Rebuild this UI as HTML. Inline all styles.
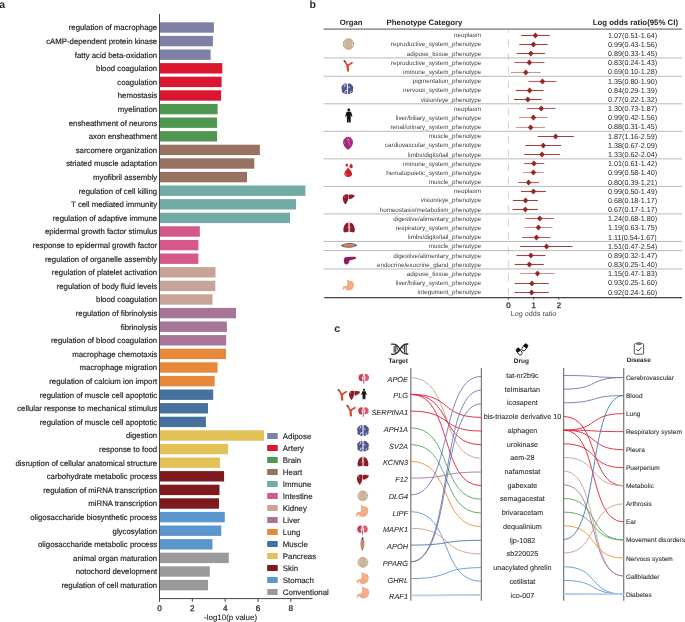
<!DOCTYPE html>
<html><head><meta charset="utf-8"><style>
html,body{margin:0;padding:0;background:#fff;}
svg{display:block;font-family:"Liberation Sans", sans-serif;will-change:transform;text-rendering:geometricPrecision;}
</style></head><body>
<svg width="685" height="622" viewBox="0 0 685 622">
<rect width="685" height="622" fill="#fff"/>
<text x="-0.80" y="8.00" font-size="10.5" text-anchor="start" font-weight="bold" fill="#231f20">a</text>
<text x="309.60" y="7.90" font-size="10.5" text-anchor="start" font-weight="bold" fill="#231f20">b</text>
<text x="334.20" y="331.80" font-size="10.5" text-anchor="start" font-weight="bold" fill="#231f20">c</text>
<g>
<rect x="160.00" y="22.30" width="53.90" height="10.4" fill="#7e80a8"/>
<text x="157.20" y="30.30" font-size="7.8" text-anchor="end" fill="#231f20" stroke="#231f20" stroke-width="0.18">regulation of macrophage</text>
<rect x="160.00" y="35.90" width="52.90" height="10.4" fill="#7e80a8"/>
<text x="157.20" y="43.90" font-size="7.8" text-anchor="end" fill="#231f20" stroke="#231f20" stroke-width="0.18">cAMP-dependent protein kinase</text>
<rect x="160.00" y="49.50" width="50.60" height="10.4" fill="#7e80a8"/>
<text x="157.20" y="57.50" font-size="7.8" text-anchor="end" fill="#231f20" stroke="#231f20" stroke-width="0.18">fatty acid beta-oxidation</text>
<rect x="160.00" y="63.10" width="62.30" height="10.4" fill="#dc1530"/>
<text x="157.20" y="71.10" font-size="7.8" text-anchor="end" fill="#231f20" stroke="#231f20" stroke-width="0.18">blood coagulation</text>
<rect x="160.00" y="76.70" width="61.60" height="10.4" fill="#dc1530"/>
<text x="157.20" y="84.70" font-size="7.8" text-anchor="end" fill="#231f20" stroke="#231f20" stroke-width="0.18">coagulation</text>
<rect x="160.00" y="90.30" width="61.10" height="10.4" fill="#dc1530"/>
<text x="157.20" y="98.30" font-size="7.8" text-anchor="end" fill="#231f20" stroke="#231f20" stroke-width="0.18">hemostasis</text>
<rect x="160.00" y="103.90" width="57.60" height="10.4" fill="#4f9650"/>
<text x="157.20" y="111.90" font-size="7.8" text-anchor="end" fill="#231f20" stroke="#231f20" stroke-width="0.18">myelination</text>
<rect x="160.00" y="117.50" width="57.10" height="10.4" fill="#4f9650"/>
<text x="157.20" y="125.50" font-size="7.8" text-anchor="end" fill="#231f20" stroke="#231f20" stroke-width="0.18">ensheathment of neurons</text>
<rect x="160.00" y="131.10" width="57.10" height="10.4" fill="#4f9650"/>
<text x="157.20" y="139.10" font-size="7.8" text-anchor="end" fill="#231f20" stroke="#231f20" stroke-width="0.18">axon ensheathment</text>
<rect x="160.00" y="144.70" width="99.90" height="10.4" fill="#977260"/>
<text x="157.20" y="152.70" font-size="7.8" text-anchor="end" fill="#231f20" stroke="#231f20" stroke-width="0.18">sarcomere organization</text>
<rect x="160.00" y="158.30" width="94.30" height="10.4" fill="#977260"/>
<text x="157.20" y="166.30" font-size="7.8" text-anchor="end" fill="#231f20" stroke="#231f20" stroke-width="0.18">striated muscle adaptation</text>
<rect x="160.00" y="171.90" width="87.00" height="10.4" fill="#977260"/>
<text x="157.20" y="179.90" font-size="7.8" text-anchor="end" fill="#231f20" stroke="#231f20" stroke-width="0.18">myofibril assembly</text>
<rect x="160.00" y="185.50" width="145.40" height="10.4" fill="#72aba6"/>
<text x="157.20" y="193.50" font-size="7.8" text-anchor="end" fill="#231f20" stroke="#231f20" stroke-width="0.18">regulation of cell killing</text>
<rect x="160.00" y="199.10" width="136.10" height="10.4" fill="#72aba6"/>
<text x="157.20" y="207.10" font-size="7.8" text-anchor="end" fill="#231f20" stroke="#231f20" stroke-width="0.18">T cell mediated immunity</text>
<rect x="160.00" y="212.70" width="130.00" height="10.4" fill="#72aba6"/>
<text x="157.20" y="220.70" font-size="7.8" text-anchor="end" fill="#231f20" stroke="#231f20" stroke-width="0.18">regulation of adaptive immune</text>
<rect x="160.00" y="226.30" width="39.85" height="10.4" fill="#d4588a"/>
<text x="157.20" y="234.30" font-size="7.8" text-anchor="end" fill="#231f20" stroke="#231f20" stroke-width="0.18">epidermal growth factor stimulus</text>
<rect x="160.00" y="239.90" width="38.40" height="10.4" fill="#d4588a"/>
<text x="157.20" y="247.90" font-size="7.8" text-anchor="end" fill="#231f20" stroke="#231f20" stroke-width="0.18">response to epidermal growth factor</text>
<rect x="160.00" y="253.50" width="38.40" height="10.4" fill="#d4588a"/>
<text x="157.20" y="261.50" font-size="7.8" text-anchor="end" fill="#231f20" stroke="#231f20" stroke-width="0.18">regulation of organelle assembly</text>
<rect x="160.00" y="267.10" width="55.50" height="10.4" fill="#c8a397"/>
<text x="157.20" y="275.10" font-size="7.8" text-anchor="end" fill="#231f20" stroke="#231f20" stroke-width="0.18">regulation of platelet activation</text>
<rect x="160.00" y="280.70" width="55.30" height="10.4" fill="#c8a397"/>
<text x="157.20" y="288.70" font-size="7.8" text-anchor="end" fill="#231f20" stroke="#231f20" stroke-width="0.18">regulation of body fluid levels</text>
<rect x="160.00" y="294.30" width="52.50" height="10.4" fill="#c8a397"/>
<text x="157.20" y="302.30" font-size="7.8" text-anchor="end" fill="#231f20" stroke="#231f20" stroke-width="0.18">blood coagulation</text>
<rect x="160.00" y="307.90" width="76.00" height="10.4" fill="#a77598"/>
<text x="157.20" y="315.90" font-size="7.8" text-anchor="end" fill="#231f20" stroke="#231f20" stroke-width="0.18">regulation of fibrinolysis</text>
<rect x="160.00" y="321.50" width="66.90" height="10.4" fill="#a77598"/>
<text x="157.20" y="329.50" font-size="7.8" text-anchor="end" fill="#231f20" stroke="#231f20" stroke-width="0.18">fibrinolysis</text>
<rect x="160.00" y="335.10" width="66.20" height="10.4" fill="#a77598"/>
<text x="157.20" y="343.10" font-size="7.8" text-anchor="end" fill="#231f20" stroke="#231f20" stroke-width="0.18">regulation of blood coagulation</text>
<rect x="160.00" y="348.70" width="66.00" height="10.4" fill="#e7893a"/>
<text x="157.20" y="356.70" font-size="7.8" text-anchor="end" fill="#231f20" stroke="#231f20" stroke-width="0.18">macrophage chemotaxis</text>
<rect x="160.00" y="362.30" width="57.60" height="10.4" fill="#e7893a"/>
<text x="157.20" y="370.30" font-size="7.8" text-anchor="end" fill="#231f20" stroke="#231f20" stroke-width="0.18">macrophage migration</text>
<rect x="160.00" y="375.90" width="54.60" height="10.4" fill="#e7893a"/>
<text x="157.20" y="383.90" font-size="7.8" text-anchor="end" fill="#231f20" stroke="#231f20" stroke-width="0.18">regulation of calcium ion import</text>
<rect x="160.00" y="389.50" width="53.20" height="10.4" fill="#46719d"/>
<text x="157.20" y="397.50" font-size="7.8" text-anchor="end" fill="#231f20" stroke="#231f20" stroke-width="0.18">regulation of muscle cell apoptotic</text>
<rect x="160.00" y="403.10" width="48.00" height="10.4" fill="#46719d"/>
<text x="157.20" y="411.10" font-size="7.8" text-anchor="end" fill="#231f20" stroke="#231f20" stroke-width="0.18">cellular response to mechanical stimulus</text>
<rect x="160.00" y="416.70" width="45.90" height="10.4" fill="#46719d"/>
<text x="157.20" y="424.70" font-size="7.8" text-anchor="end" fill="#231f20" stroke="#231f20" stroke-width="0.18">regulation of muscle cell apoptotic</text>
<rect x="160.00" y="430.30" width="104.00" height="10.4" fill="#e2c257"/>
<text x="157.20" y="438.30" font-size="7.8" text-anchor="end" fill="#231f20" stroke="#231f20" stroke-width="0.18">digestion</text>
<rect x="160.00" y="443.90" width="68.10" height="10.4" fill="#e2c257"/>
<text x="157.20" y="451.90" font-size="7.8" text-anchor="end" fill="#231f20" stroke="#231f20" stroke-width="0.18">response to food</text>
<rect x="160.00" y="457.50" width="59.90" height="10.4" fill="#e2c257"/>
<text x="157.20" y="465.50" font-size="7.8" text-anchor="end" fill="#231f20" stroke="#231f20" stroke-width="0.18">disruption of cellular anatomical structure</text>
<rect x="160.00" y="471.10" width="64.10" height="10.4" fill="#7e1a1e"/>
<text x="157.20" y="479.10" font-size="7.8" text-anchor="end" fill="#231f20" stroke="#231f20" stroke-width="0.18">carbohydrate metabolic process</text>
<rect x="160.00" y="484.70" width="59.50" height="10.4" fill="#7e1a1e"/>
<text x="157.20" y="492.70" font-size="7.8" text-anchor="end" fill="#231f20" stroke="#231f20" stroke-width="0.18">regulation of miRNA transcription</text>
<rect x="160.00" y="498.30" width="59.00" height="10.4" fill="#7e1a1e"/>
<text x="157.20" y="506.30" font-size="7.8" text-anchor="end" fill="#231f20" stroke="#231f20" stroke-width="0.18">miRNA transcription</text>
<rect x="160.00" y="511.90" width="64.80" height="10.4" fill="#5c96cf"/>
<text x="157.20" y="519.90" font-size="7.8" text-anchor="end" fill="#231f20" stroke="#231f20" stroke-width="0.18">oligosaccharide biosynthetic process</text>
<rect x="160.00" y="525.50" width="61.30" height="10.4" fill="#5c96cf"/>
<text x="157.20" y="533.50" font-size="7.8" text-anchor="end" fill="#231f20" stroke="#231f20" stroke-width="0.18">glycosylation</text>
<rect x="160.00" y="539.10" width="52.50" height="10.4" fill="#5c96cf"/>
<text x="157.20" y="547.10" font-size="7.8" text-anchor="end" fill="#231f20" stroke="#231f20" stroke-width="0.18">oligosaccharide metabolic process</text>
<rect x="160.00" y="552.70" width="68.80" height="10.4" fill="#9a9a9a"/>
<text x="157.20" y="560.70" font-size="7.8" text-anchor="end" fill="#231f20" stroke="#231f20" stroke-width="0.18">animal organ maturation</text>
<rect x="160.00" y="566.30" width="49.80" height="10.4" fill="#9a9a9a"/>
<text x="157.20" y="574.30" font-size="7.8" text-anchor="end" fill="#231f20" stroke="#231f20" stroke-width="0.18">notochord development</text>
<rect x="160.00" y="579.90" width="48.00" height="10.4" fill="#9a9a9a"/>
<text x="157.20" y="587.90" font-size="7.8" text-anchor="end" fill="#231f20" stroke="#231f20" stroke-width="0.18">regulation of cell maturation</text>
</g>
<line x1="159.5" y1="14" x2="159.5" y2="599.1" stroke="#454545" stroke-width="1"/>
<line x1="159.0" y1="598.6" x2="312.5" y2="598.6" stroke="#454545" stroke-width="1"/>
<line x1="159.50" y1="598.6" x2="159.50" y2="601.8" stroke="#454545" stroke-width="1"/>
<text x="159.50" y="611.00" font-size="8.2" text-anchor="middle" fill="#231f20" stroke="#231f20" stroke-width="0.25">0</text>
<line x1="192.34" y1="598.6" x2="192.34" y2="601.8" stroke="#454545" stroke-width="1"/>
<text x="192.34" y="611.00" font-size="8.2" text-anchor="middle" fill="#231f20" stroke="#231f20" stroke-width="0.25">2</text>
<line x1="225.18" y1="598.6" x2="225.18" y2="601.8" stroke="#454545" stroke-width="1"/>
<text x="225.18" y="611.00" font-size="8.2" text-anchor="middle" fill="#231f20" stroke="#231f20" stroke-width="0.25">4</text>
<line x1="258.02" y1="598.6" x2="258.02" y2="601.8" stroke="#454545" stroke-width="1"/>
<text x="258.02" y="611.00" font-size="8.2" text-anchor="middle" fill="#231f20" stroke="#231f20" stroke-width="0.25">6</text>
<line x1="290.86" y1="598.6" x2="290.86" y2="601.8" stroke="#454545" stroke-width="1"/>
<text x="290.86" y="611.00" font-size="8.2" text-anchor="middle" fill="#231f20" stroke="#231f20" stroke-width="0.25">8</text>
<text x="230.60" y="619.60" font-size="7.95" text-anchor="middle" fill="#231f20" stroke="#231f20" stroke-width="0.12">-log10(p value)</text>
<rect x="267.2" y="433.00" width="10.5" height="6" fill="#7e80a8"/>
<text x="282.80" y="438.80" font-size="7.9" text-anchor="start" fill="#231f20" stroke="#231f20" stroke-width="0.15">Adipose</text>
<rect x="267.2" y="445.00" width="10.5" height="6" fill="#dc1530"/>
<text x="282.80" y="450.80" font-size="7.9" text-anchor="start" fill="#231f20" stroke="#231f20" stroke-width="0.15">Artery</text>
<rect x="267.2" y="457.00" width="10.5" height="6" fill="#4f9650"/>
<text x="282.80" y="462.80" font-size="7.9" text-anchor="start" fill="#231f20" stroke="#231f20" stroke-width="0.15">Brain</text>
<rect x="267.2" y="469.00" width="10.5" height="6" fill="#977260"/>
<text x="282.80" y="474.80" font-size="7.9" text-anchor="start" fill="#231f20" stroke="#231f20" stroke-width="0.15">Heart</text>
<rect x="267.2" y="481.00" width="10.5" height="6" fill="#72aba6"/>
<text x="282.80" y="486.80" font-size="7.9" text-anchor="start" fill="#231f20" stroke="#231f20" stroke-width="0.15">Immune</text>
<rect x="267.2" y="493.00" width="10.5" height="6" fill="#d4588a"/>
<text x="282.80" y="498.80" font-size="7.9" text-anchor="start" fill="#231f20" stroke="#231f20" stroke-width="0.15">Intestine</text>
<rect x="267.2" y="505.00" width="10.5" height="6" fill="#c8a397"/>
<text x="282.80" y="510.80" font-size="7.9" text-anchor="start" fill="#231f20" stroke="#231f20" stroke-width="0.15">Kidney</text>
<rect x="267.2" y="517.00" width="10.5" height="6" fill="#a77598"/>
<text x="282.80" y="522.80" font-size="7.9" text-anchor="start" fill="#231f20" stroke="#231f20" stroke-width="0.15">Liver</text>
<rect x="267.2" y="529.00" width="10.5" height="6" fill="#e7893a"/>
<text x="282.80" y="534.80" font-size="7.9" text-anchor="start" fill="#231f20" stroke="#231f20" stroke-width="0.15">Lung</text>
<rect x="267.2" y="541.00" width="10.5" height="6" fill="#46719d"/>
<text x="282.80" y="546.80" font-size="7.9" text-anchor="start" fill="#231f20" stroke="#231f20" stroke-width="0.15">Muscle</text>
<rect x="267.2" y="553.00" width="10.5" height="6" fill="#e2c257"/>
<text x="282.80" y="558.80" font-size="7.9" text-anchor="start" fill="#231f20" stroke="#231f20" stroke-width="0.15">Pancreas</text>
<rect x="267.2" y="565.00" width="10.5" height="6" fill="#7e1a1e"/>
<text x="282.80" y="570.80" font-size="7.9" text-anchor="start" fill="#231f20" stroke="#231f20" stroke-width="0.15">Skin</text>
<rect x="267.2" y="577.00" width="10.5" height="6" fill="#5c96cf"/>
<text x="282.80" y="582.80" font-size="7.9" text-anchor="start" fill="#231f20" stroke="#231f20" stroke-width="0.15">Stomach</text>
<rect x="267.2" y="589.00" width="10.5" height="6" fill="#9a9a9a"/>
<text x="282.80" y="594.80" font-size="7.9" text-anchor="start" fill="#231f20" stroke="#231f20" stroke-width="0.15">Conventional</text>
<text x="339.80" y="24.90" font-size="7.7" text-anchor="start" font-weight="bold" fill="#231f20">Organ</text>
<text x="386.60" y="24.90" font-size="7.8" text-anchor="start" font-weight="bold" fill="#231f20">Phenotype Category</text>
<text x="592.80" y="25.30" font-size="7.84" text-anchor="start" font-weight="bold" fill="#231f20">Log odds ratio(95% CI)</text>
<line x1="323.5" y1="29.1" x2="682" y2="29.1" stroke="#9c9c9c" stroke-width="1.6"/>
<line x1="508.4" y1="29.9" x2="508.4" y2="297" stroke="#d2d2d2" stroke-width="1" stroke-dasharray="7.5,6.3" stroke-dashoffset="4.4"/>
<text x="481.20" y="37.30" font-size="6.25" text-anchor="end" fill="#3c3c3c">neoplasm</text>
<line x1="521.28" y1="35.50" x2="549.81" y2="35.50" stroke="#a53f3f" stroke-width="1.1"/>
<path d="M532.62,35.50L535.42,32.40L538.22,35.50L535.42,38.60Z" fill="#962828"/>
<text x="608.00" y="37.70" font-size="7.2" text-anchor="start" fill="#2a2a2a">1.07(0.51-1.64)</text>
<text x="481.20" y="46.47" font-size="6.25" text-anchor="end" fill="#3c3c3c">reproductive_system_phenotype</text>
<line x1="519.26" y1="44.50" x2="547.79" y2="44.50" stroke="#a53f3f" stroke-width="1.1"/>
<path d="M530.60,44.50L533.40,41.40L536.20,44.50L533.40,47.60Z" fill="#962828"/>
<text x="608.00" y="46.87" font-size="7.2" text-anchor="start" fill="#2a2a2a">0.99(0.43-1.56)</text>
<text x="481.20" y="55.65" font-size="6.25" text-anchor="end" fill="#3c3c3c">adipose_tissue_phenotype</text>
<line x1="516.73" y1="53.50" x2="545.01" y2="53.50" stroke="#a53f3f" stroke-width="1.1"/>
<path d="M528.07,53.50L530.87,50.40L533.67,53.50L530.87,56.60Z" fill="#962828"/>
<text x="608.00" y="56.05" font-size="7.2" text-anchor="start" fill="#2a2a2a">0.89(0.33-1.45)</text>
<line x1="323.5" y1="57.94" x2="682" y2="57.94" stroke="#b6b6b6" stroke-width="0.95"/>
<text x="481.20" y="64.83" font-size="6.25" text-anchor="end" fill="#3c3c3c">reproductive_system_phenotype</text>
<line x1="514.46" y1="62.50" x2="544.51" y2="62.50" stroke="#b65e5e" stroke-width="1.1"/>
<path d="M526.56,62.50L529.36,59.40L532.16,62.50L529.36,65.60Z" fill="#962828"/>
<text x="608.00" y="65.23" font-size="7.2" text-anchor="start" fill="#2a2a2a">0.83(0.24-1.43)</text>
<text x="481.20" y="74.00" font-size="6.25" text-anchor="end" fill="#3c3c3c">immune_system_phenotype</text>
<line x1="510.92" y1="72.50" x2="540.72" y2="72.50" stroke="#d09292" stroke-width="1.1"/>
<path d="M523.02,72.50L525.82,69.40L528.62,72.50L525.82,75.60Z" fill="#962828"/>
<text x="608.00" y="74.40" font-size="7.2" text-anchor="start" fill="#2a2a2a">0.69(0.10-1.28)</text>
<line x1="323.5" y1="76.29" x2="682" y2="76.29" stroke="#b6b6b6" stroke-width="0.95"/>
<text x="481.20" y="83.17" font-size="6.25" text-anchor="end" fill="#3c3c3c">pigmentation_phenotype</text>
<line x1="528.60" y1="81.50" x2="556.38" y2="81.50" stroke="#b65e5e" stroke-width="1.1"/>
<path d="M539.69,81.50L542.49,78.40L545.29,81.50L542.49,84.60Z" fill="#962828"/>
<text x="608.00" y="83.58" font-size="7.2" text-anchor="start" fill="#2a2a2a">1.35(0.80-1.90)</text>
<text x="481.20" y="92.35" font-size="6.25" text-anchor="end" fill="#3c3c3c">nervous_system_phenotype</text>
<line x1="515.72" y1="90.50" x2="543.50" y2="90.50" stroke="#a53f3f" stroke-width="1.1"/>
<path d="M526.81,90.50L529.61,87.40L532.41,90.50L529.61,93.60Z" fill="#962828"/>
<text x="608.00" y="92.75" font-size="7.2" text-anchor="start" fill="#2a2a2a">0.84(0.29-1.39)</text>
<text x="481.20" y="101.53" font-size="6.25" text-anchor="end" fill="#3c3c3c">vision/eye_phenotype</text>
<line x1="513.95" y1="99.50" x2="541.73" y2="99.50" stroke="#a53f3f" stroke-width="1.1"/>
<path d="M525.04,99.50L527.84,96.40L530.64,99.50L527.84,102.60Z" fill="#962828"/>
<text x="608.00" y="101.93" font-size="7.2" text-anchor="start" fill="#2a2a2a">0.77(0.22-1.32)</text>
<line x1="323.5" y1="103.81" x2="682" y2="103.81" stroke="#b6b6b6" stroke-width="0.95"/>
<text x="481.20" y="110.70" font-size="6.25" text-anchor="end" fill="#3c3c3c">neoplasm</text>
<line x1="526.83" y1="108.50" x2="555.62" y2="108.50" stroke="#b65e5e" stroke-width="1.1"/>
<path d="M538.43,108.50L541.23,105.40L544.02,108.50L541.23,111.60Z" fill="#962828"/>
<text x="608.00" y="111.10" font-size="7.2" text-anchor="start" fill="#2a2a2a">1.30(0.73-1.87)</text>
<text x="481.20" y="119.88" font-size="6.25" text-anchor="end" fill="#3c3c3c">liver/biliary_system_phenotype</text>
<line x1="519.00" y1="117.50" x2="547.79" y2="117.50" stroke="#d09292" stroke-width="1.1"/>
<path d="M530.60,117.50L533.40,114.40L536.20,117.50L533.40,120.60Z" fill="#962828"/>
<text x="608.00" y="120.28" font-size="7.2" text-anchor="start" fill="#2a2a2a">0.99(0.42-1.56)</text>
<text x="481.20" y="129.05" font-size="6.25" text-anchor="end" fill="#3c3c3c">renal/urinary_system_phenotype</text>
<line x1="516.23" y1="127.50" x2="545.01" y2="127.50" stroke="#d09292" stroke-width="1.1"/>
<path d="M527.82,127.50L530.62,124.40L533.42,127.50L530.62,130.60Z" fill="#962828"/>
<text x="608.00" y="129.45" font-size="7.2" text-anchor="start" fill="#2a2a2a">0.88(0.31-1.45)</text>
<line x1="323.5" y1="131.34" x2="682" y2="131.34" stroke="#b6b6b6" stroke-width="0.95"/>
<text x="481.20" y="138.23" font-size="6.25" text-anchor="end" fill="#3c3c3c">muscle_phenotype</text>
<line x1="537.69" y1="136.50" x2="573.80" y2="136.50" stroke="#a53f3f" stroke-width="1.1"/>
<path d="M552.82,136.50L555.62,133.40L558.42,136.50L555.62,139.60Z" fill="#962828"/>
<text x="608.00" y="138.63" font-size="7.2" text-anchor="start" fill="#2a2a2a">1.87(1.16-2.59)</text>
<text x="481.20" y="147.40" font-size="6.25" text-anchor="end" fill="#3c3c3c">cardiovascular_system_phenotype</text>
<line x1="525.32" y1="145.50" x2="561.17" y2="145.50" stroke="#a53f3f" stroke-width="1.1"/>
<path d="M540.45,145.50L543.25,142.40L546.04,145.50L543.25,148.60Z" fill="#962828"/>
<text x="608.00" y="147.80" font-size="7.2" text-anchor="start" fill="#2a2a2a">1.38(0.67-2.09)</text>
<text x="481.20" y="156.57" font-size="6.25" text-anchor="end" fill="#3c3c3c">limbs/digits/tail_phenotype</text>
<line x1="524.05" y1="154.50" x2="559.91" y2="154.50" stroke="#a53f3f" stroke-width="1.1"/>
<path d="M539.18,154.50L541.98,151.40L544.78,154.50L541.98,157.60Z" fill="#962828"/>
<text x="608.00" y="156.97" font-size="7.2" text-anchor="start" fill="#2a2a2a">1.33(0.62-2.04)</text>
<line x1="323.5" y1="158.86" x2="682" y2="158.86" stroke="#b6b6b6" stroke-width="0.95"/>
<text x="481.20" y="165.75" font-size="6.25" text-anchor="end" fill="#3c3c3c">immune_system_phenotype</text>
<line x1="523.80" y1="163.50" x2="544.25" y2="163.50" stroke="#b65e5e" stroke-width="1.1"/>
<path d="M531.10,163.50L533.90,160.40L536.70,163.50L533.90,166.60Z" fill="#962828"/>
<text x="608.00" y="166.15" font-size="7.2" text-anchor="start" fill="#2a2a2a">1.01(0.61-1.42)</text>
<text x="481.20" y="174.93" font-size="6.25" text-anchor="end" fill="#3c3c3c">hematopoietic_system_phenotype</text>
<line x1="523.04" y1="172.50" x2="543.75" y2="172.50" stroke="#d09292" stroke-width="1.1"/>
<path d="M530.60,172.50L533.40,169.40L536.20,172.50L533.40,175.60Z" fill="#962828"/>
<text x="608.00" y="175.33" font-size="7.2" text-anchor="start" fill="#2a2a2a">0.99(0.58-1.40)</text>
<text x="481.20" y="184.10" font-size="6.25" text-anchor="end" fill="#3c3c3c">muscle_phenotype</text>
<line x1="518.25" y1="182.50" x2="538.95" y2="182.50" stroke="#b65e5e" stroke-width="1.1"/>
<path d="M525.80,182.50L528.60,179.40L531.40,182.50L528.60,185.60Z" fill="#962828"/>
<text x="608.00" y="184.50" font-size="7.2" text-anchor="start" fill="#2a2a2a">0.80(0.39-1.21)</text>
<line x1="323.5" y1="186.39" x2="682" y2="186.39" stroke="#b6b6b6" stroke-width="0.95"/>
<text x="481.20" y="193.28" font-size="6.25" text-anchor="end" fill="#3c3c3c">neoplasm</text>
<line x1="521.02" y1="191.50" x2="546.02" y2="191.50" stroke="#a53f3f" stroke-width="1.1"/>
<path d="M530.60,191.50L533.40,188.40L536.20,191.50L533.40,194.60Z" fill="#962828"/>
<text x="608.00" y="193.68" font-size="7.2" text-anchor="start" fill="#2a2a2a">0.99(0.50-1.49)</text>
<text x="481.20" y="202.45" font-size="6.25" text-anchor="end" fill="#3c3c3c">vision/eye_phenotype</text>
<line x1="512.94" y1="200.50" x2="537.94" y2="200.50" stroke="#a53f3f" stroke-width="1.1"/>
<path d="M522.77,200.50L525.57,197.40L528.37,200.50L525.57,203.60Z" fill="#962828"/>
<text x="608.00" y="202.85" font-size="7.2" text-anchor="start" fill="#2a2a2a">0.68(0.18-1.17)</text>
<text x="481.20" y="211.62" font-size="6.25" text-anchor="end" fill="#3c3c3c">homeostasis/metabolism_phenotype</text>
<line x1="512.69" y1="209.50" x2="537.94" y2="209.50" stroke="#a53f3f" stroke-width="1.1"/>
<path d="M522.52,209.50L525.32,206.40L528.12,209.50L525.32,212.60Z" fill="#962828"/>
<text x="608.00" y="212.03" font-size="7.2" text-anchor="start" fill="#2a2a2a">0.67(0.17-1.17)</text>
<line x1="323.5" y1="213.91" x2="682" y2="213.91" stroke="#b6b6b6" stroke-width="0.95"/>
<text x="481.20" y="220.80" font-size="6.25" text-anchor="end" fill="#3c3c3c">digestive/alimentary_phenotype</text>
<line x1="525.57" y1="218.50" x2="553.85" y2="218.50" stroke="#b65e5e" stroke-width="1.1"/>
<path d="M536.91,218.50L539.71,215.40L542.51,218.50L539.71,221.60Z" fill="#962828"/>
<text x="608.00" y="221.20" font-size="7.2" text-anchor="start" fill="#2a2a2a">1.24(0.68-1.80)</text>
<text x="481.20" y="229.98" font-size="6.25" text-anchor="end" fill="#3c3c3c">respiratory_system_phenotype</text>
<line x1="524.31" y1="227.50" x2="552.59" y2="227.50" stroke="#d09292" stroke-width="1.1"/>
<path d="M535.65,227.50L538.45,224.40L541.25,227.50L538.45,230.60Z" fill="#962828"/>
<text x="608.00" y="230.38" font-size="7.2" text-anchor="start" fill="#2a2a2a">1.19(0.63-1.75)</text>
<text x="481.20" y="239.15" font-size="6.25" text-anchor="end" fill="#3c3c3c">limbs/digits/tail_phenotype</text>
<line x1="522.03" y1="237.50" x2="550.57" y2="237.50" stroke="#b65e5e" stroke-width="1.1"/>
<path d="M533.63,237.50L536.43,234.40L539.23,237.50L536.43,240.60Z" fill="#962828"/>
<text x="608.00" y="239.55" font-size="7.2" text-anchor="start" fill="#2a2a2a">1.11(0.54-1.67)</text>
<line x1="323.5" y1="241.44" x2="682" y2="241.44" stroke="#b6b6b6" stroke-width="0.95"/>
<text x="481.20" y="248.32" font-size="6.25" text-anchor="end" fill="#3c3c3c">muscle_phenotype</text>
<line x1="520.27" y1="246.50" x2="572.53" y2="246.50" stroke="#a53f3f" stroke-width="1.1"/>
<path d="M543.73,246.50L546.53,243.40L549.33,246.50L546.53,249.60Z" fill="#962828"/>
<text x="608.00" y="248.72" font-size="7.2" text-anchor="start" fill="#2a2a2a">1.51(0.47-2.54)</text>
<line x1="323.5" y1="250.61" x2="682" y2="250.61" stroke="#b6b6b6" stroke-width="0.95"/>
<text x="481.20" y="257.50" font-size="6.25" text-anchor="end" fill="#3c3c3c">digestive/alimentary_phenotype</text>
<line x1="516.48" y1="255.50" x2="545.52" y2="255.50" stroke="#a53f3f" stroke-width="1.1"/>
<path d="M528.07,255.50L530.87,252.40L533.67,255.50L530.87,258.60Z" fill="#962828"/>
<text x="608.00" y="257.90" font-size="7.2" text-anchor="start" fill="#2a2a2a">0.89(0.32-1.47)</text>
<text x="481.20" y="266.68" font-size="6.25" text-anchor="end" fill="#3c3c3c">endocrine/exocrine_gland_phenotype</text>
<line x1="514.71" y1="264.50" x2="543.75" y2="264.50" stroke="#a53f3f" stroke-width="1.1"/>
<path d="M526.56,264.50L529.36,261.40L532.16,264.50L529.36,267.60Z" fill="#962828"/>
<text x="608.00" y="267.07" font-size="7.2" text-anchor="start" fill="#2a2a2a">0.83(0.25-1.40)</text>
<line x1="323.5" y1="268.96" x2="682" y2="268.96" stroke="#b6b6b6" stroke-width="0.95"/>
<text x="481.20" y="275.85" font-size="6.25" text-anchor="end" fill="#3c3c3c">adipose_tissue_phenotype</text>
<line x1="520.27" y1="273.50" x2="554.61" y2="273.50" stroke="#d09292" stroke-width="1.1"/>
<path d="M534.64,273.50L537.44,270.40L540.24,273.50L537.44,276.60Z" fill="#962828"/>
<text x="608.00" y="276.25" font-size="7.2" text-anchor="start" fill="#2a2a2a">1.15(0.47-1.83)</text>
<text x="481.20" y="285.03" font-size="6.25" text-anchor="end" fill="#3c3c3c">liver/biliary_system_phenotype</text>
<line x1="514.71" y1="283.50" x2="548.80" y2="283.50" stroke="#a53f3f" stroke-width="1.1"/>
<path d="M529.08,283.50L531.88,280.40L534.68,283.50L531.88,286.60Z" fill="#962828"/>
<text x="608.00" y="285.43" font-size="7.2" text-anchor="start" fill="#2a2a2a">0.93(0.25-1.60)</text>
<text x="481.20" y="294.20" font-size="6.25" text-anchor="end" fill="#3c3c3c">integument_phenotype</text>
<line x1="514.46" y1="292.50" x2="548.80" y2="292.50" stroke="#a53f3f" stroke-width="1.1"/>
<path d="M528.83,292.50L531.63,289.40L534.43,292.50L531.63,295.60Z" fill="#962828"/>
<text x="608.00" y="294.60" font-size="7.2" text-anchor="start" fill="#2a2a2a">0.92(0.24-1.60)</text>
<line x1="324.2" y1="297.6" x2="682" y2="297.6" stroke="#404040" stroke-width="1.2"/>
<line x1="508.40" y1="297.6" x2="508.40" y2="299.6" stroke="#333" stroke-width="0.8"/>
<text x="508.40" y="308.30" font-size="7.9" text-anchor="middle" fill="#231f20" stroke="#231f20" stroke-width="0.25">0</text>
<line x1="533.65" y1="297.6" x2="533.65" y2="299.6" stroke="#333" stroke-width="0.8"/>
<text x="533.65" y="308.30" font-size="7.9" text-anchor="middle" fill="#231f20" stroke="#231f20" stroke-width="0.25">1</text>
<line x1="558.90" y1="297.6" x2="558.90" y2="299.6" stroke="#333" stroke-width="0.8"/>
<text x="558.90" y="308.30" font-size="7.9" text-anchor="middle" fill="#231f20" stroke="#231f20" stroke-width="0.25">2</text>
<text x="533.60" y="316.40" font-size="7.2" text-anchor="middle" fill="#444">Log odds ratio</text>
<g transform="translate(348.50,44.00) scale(1.08)"><g><circle cx="0" cy="0" r="4.9" fill="#c8b69e" stroke="#cf9f68" stroke-width="0.9"/><path d="M-3.2,-2.6 C-4.4,-1 -4.4,1.2 -3.2,2.6" stroke="#d8c8e0" stroke-width="0.9" fill="none"/><path d="M4.2,-2.4 C3.2,-1.4 3.2,1 4.4,2" stroke="#d4e4f2" stroke-width="1.1" fill="none"/><path d="M2.8,-0.6 L5.4,-0.4" stroke="#b08a60" stroke-width="0.5"/></g></g>
<g transform="translate(348.40,66.20) scale(1.0)"><g fill="none" stroke-linecap="round" stroke-linejoin="round"><path d="M-3.3,-4.4 L-0.8,-0.5 M-0.8,-0.5 L3.6,-3.4" stroke="#dc4a2c" stroke-width="1.75"/><path d="M-0.8,-0.6 L-0.4,4.3" stroke="#dc4a2c" stroke-width="2.3"/><path d="M-3.5,-4.8 L-4.3,-5.5" stroke="#333" stroke-width="1.3"/></g></g>
<g transform="translate(347.40,88.70) scale(1.0)"><g fill="#50578f"><path d="M-0.5,-4.8 L-1.6,-5.4 L-3.2,-5 L-4.4,-3.8 L-5.6,-2.8 L-5.9,-0.6 L-5.4,1.2 L-5.7,2.8 L-4.5,4.2 L-3.1,4.6 L-2.2,5.4 L-0.5,5.2 Z"/><path d="M0.5,-4.8 L1.6,-5.4 L3.2,-5 L4.4,-3.8 L5.6,-2.8 L5.9,-0.6 L5.4,1.2 L5.7,2.8 L4.5,4.2 L3.1,4.6 L2.2,5.4 L0.5,5.2 Z"/><path d="M-2.4,-4.8 L-2.4,-2.6 L-3.6,-1.6 M-0.5,1.6 L-2.4,2.4 L-2.6,4 M0.5,-1.6 L2.4,-1.4 M3.6,2.2 L2.8,4.2" stroke="#fff" stroke-width="0.75" fill="none"/></g></g>
<g transform="translate(348.80,116.00) scale(1.0)"><g fill="#111"><circle cx="0" cy="-6.0" r="1.4"/><path d="M-2.2,-4.3 H2.2 L3.7,0.4 L2.7,0.8 L1.9,-1.3 L1.9,6.6 L0.25,6.6 L0,2.4 L-0.25,6.6 L-1.9,6.6 L-1.9,-1.3 L-2.7,0.8 L-3.7,0.4 Z"/></g></g>
<g transform="translate(348.10,143.30) scale(1.0)"><g><path d="M-2.4,-5.6 L-1.6,-6.6 L-0.4,-5.8 L0.6,-6.8 L1.4,-5.6 L2.8,-6.2 L3.2,-4.8 C4.6,-4 5,-2.4 4.8,-0.6 C4.6,2.4 2.4,5 0,6.4 C-2.6,5.2 -4.8,2.2 -5,-0.8 C-5.2,-2.8 -4.2,-4.6 -2.4,-5.6 Z" fill="#a2287d"/><path d="M-1.8,-3.4 q2,-1.2 3.2,0.2 q-2.2,1.2 -0.8,2.6 q2.2,0.6 1,2.6 M-3.6,-1 q0.8,0.6 0.4,1.6 M2.8,-3.8 l0.8,1" stroke="#e6b0d4" stroke-width="0.6" fill="none"/></g></g>
<g transform="translate(348.20,170.20) scale(1.0)"><g fill="#cc2230"><path d="M0,-2.6 C-1.6,-0.2 -3.9,1.6 -3.9,3.9 C-3.9,5.9 -2.2,6.9 0,6.9 C2.2,6.9 3.9,5.9 3.9,3.9 C3.9,1.6 1.6,-0.2 0,-2.6 Z"/><path d="M-1.4,-7.2 C-2,-6.2 -2.6,-5.6 -2.6,-4.8 C-2.6,-4 -2,-3.6 -1.4,-3.6 C-0.8,-3.6 -0.2,-4 -0.2,-4.8 C-0.2,-5.6 -0.8,-6.2 -1.4,-7.2 Z"/><path d="M2.9,-6.6 C2,-5.4 1.2,-4.6 1.2,-3.6 C1.2,-2.6 2,-2 2.9,-2 C3.8,-2 4.6,-2.6 4.6,-3.6 C4.6,-4.6 3.8,-5.4 2.9,-6.6 Z"/><ellipse cx="-2.2" cy="4.4" rx="0.7" ry="1.1" fill="#ef9a9a"/></g></g>
<g transform="translate(348.80,199.00) scale(1.0)"><g fill="#8c1e2b"><path d="M-5.6,-2.8 C-4.8,-4.6 -2.6,-5.2 -0.9,-4.6 C-0.2,-3.6 -0.3,-1 -0.9,1 C-1.5,3 -2.5,4.8 -3.5,5.3 C-4.5,4.8 -5.6,2.2 -6,0.2 C-6.2,-1.2 -6,-2.1 -5.6,-2.8 Z"/><path d="M-0.1,-4.3 C1.8,-4.7 4.4,-4.7 6,-3.7 C5.6,-1.8 3.8,-0.7 1.2,0.3 C0.6,0.5 0.2,0.1 0,-0.7 C-0.2,-2 -0.3,-3.4 -0.1,-4.3 Z"/><ellipse cx="-4.2" cy="-2.4" rx="0.7" ry="0.9" fill="#c86070"/></g></g>
<g transform="translate(349.10,227.00) scale(1.06)"><g fill="#8a1f2c"><path d="M-0.5,-3.8 C-2.8,-4.6 -5,-1.6 -5.4,2.2 C-5.6,4.6 -4.8,5.4 -3.2,5 L-0.5,4.4 Z"/><path d="M0.5,-3.8 C2.8,-4.6 5,-1.6 5.4,2.2 C5.6,4.6 4.8,5.4 3.2,5 L0.5,4.4 Z"/><rect x="-0.5" y="-5.6" width="1" height="5" fill="#d6b4b8"/><path d="M0,-0.8 L-1.4,1 M0,-0.8 L1.4,1" stroke="#e8d0d0" stroke-width="0.5"/></g></g>
<g transform="translate(349.00,245.40) scale(1.0)"><g><path d="M-7.8,0.2 C-4,-2.4 4,-2.6 7.8,-0.2 C4,2.4 -4,2.6 -7.8,0.2 Z" fill="#c97458" stroke="#3c3c3c" stroke-width="0.7"/><path d="M-5,-0.4 C-2,-0.9 2,-0.9 5,-0.5 M-4.6,0.7 C-2,0.5 2,0.4 4.6,0.2" stroke="#f0b898" stroke-width="0.35" fill="none"/></g></g>
<g transform="translate(349.80,260.35) scale(1.0)"><g><path d="M-6,0.2 C-6.2,-2.6 -4.4,-3.6 -2.2,-3.4 C0.4,-3.2 3.4,-3.8 5.6,-3.4 C6.8,-2.8 6.4,-1.4 4.8,-1.2 C3,-1 1,-0.8 -0.2,0.2 C-0.6,2.6 -2,4.4 -3.8,4.2 C-5.4,4 -5.9,2.2 -6,0.2 Z" fill="#8e1d66"/></g></g>
<g transform="translate(348.20,285.00) scale(0.92)"><g><path d="M-1.2,-5.8 L0.6,-5.5 L0.9,-4.4 C2.6,-5 5,-4.4 5.9,-2 C6.6,0.4 5.8,3.4 4,4.8 C2.4,6 0.2,6.2 -1.6,5.7 C-2.4,5.4 -2.8,4.6 -3.2,3.8 C-3.8,3.4 -4.6,3.6 -4.6,4.3 C-4.6,4.8 -4.2,5 -4.3,5.3 C-5.2,5.5 -6,5 -6,3.8 C-6,2.2 -5,1.2 -3.8,1.2 C-2.6,1.2 -1.6,1.2 -1.2,0 C-0.8,-1.6 -0.6,-3 -1.2,-4.4 Z" fill="#f2a986"/><path d="M1.8,-2.8 C3.4,-1.6 3.8,0.6 3.2,2.2" stroke="#f8c4a4" stroke-width="0.8" fill="none"/></g></g>
<line x1="410.8" y1="368.0" x2="410.8" y2="600.8" stroke="#7d7875" stroke-width="1.25"/>
<line x1="481.4" y1="368.0" x2="481.4" y2="600.8" stroke="#7d7875" stroke-width="1.25"/>
<line x1="563.6" y1="368.0" x2="563.6" y2="600.8" stroke="#7d7875" stroke-width="1.25"/>
<line x1="623.7" y1="368.0" x2="623.7" y2="600.8" stroke="#7d7875" stroke-width="1.25"/>
<text x="388.60" y="362.50" font-size="6.45" text-anchor="start" font-weight="bold" fill="#231f20">Target</text>
<text x="513.80" y="362.60" font-size="6.5" text-anchor="start" font-weight="bold" fill="#231f20">Drug</text>
<text x="626.70" y="362.20" font-size="6.35" text-anchor="start" font-weight="bold" fill="#231f20">Disease</text>
<g fill="none" stroke="#2e2e2e" stroke-width="1.35" stroke-linecap="round"><path d="M391.6,344.2 C395.6,343.4 398.2,346.2 399.8,349 C401.4,351.8 403.6,354.4 407.8,354.0"/><path d="M391.6,354.2 C395.6,355 398.2,352.4 399.8,349.6 C401.4,346.8 403.6,343.6 407.8,344.0"/><path d="M394.2,346.4 V352.2 M395.8,345.4 V352.6 M404.4,345.4 V352.2 M406.2,344.8 V353.2" stroke-width="1.0"/><path d="M396.6,346.6 L398.4,351.2 M402.6,347.2 L403.4,349.2" stroke-width="0.8"/></g>
<g><g transform="translate(519.2,351.6) rotate(55)"><rect x="-3.8" y="-1.9" width="7.6" height="3.8" rx="1.9" fill="#fff" stroke="#111" stroke-width="0.8"/><path d="M-3.8,0 a1.9,1.9 0 0 1 1.9,-1.9 H0 V1.9 H-1.9 a1.9,1.9 0 0 1 -1.9,-1.9Z" fill="#111"/></g><g transform="translate(524.8,347.4) rotate(-55)"><rect x="-3.8" y="-1.9" width="7.6" height="3.8" rx="1.9" fill="#fff" stroke="#111" stroke-width="0.8"/><path d="M3.8,0 a1.9,1.9 0 0 1 -1.9,1.9 H0 V-1.9 H1.9 a1.9,1.9 0 0 1 1.9,1.9Z" fill="#111"/></g></g>
<g fill="none" stroke="#4a4a4a" stroke-width="0.95"><rect x="634.3" y="343.7" width="9.3" height="10.5" rx="0.9"/><rect x="636.7" y="342.4" width="4.5" height="2.3" rx="1" fill="#7a7a7a" stroke="#555" stroke-width="0.5"/><path d="M636.4,349.3 L638.2,351.0 L641.6,347.3" stroke="#333" stroke-width="0.95"/></g>
<path d="M410.80,377.60 C453.16,377.60 439.04,458.36 481.40,458.36" fill="none" stroke="#c9a292" stroke-width="0.92"/>
<path d="M410.80,394.35 C453.16,394.35 439.04,417.38 481.40,417.38" fill="none" stroke="#e0243e" stroke-width="0.92"/>
<path d="M410.80,394.35 C453.16,394.35 439.04,444.70 481.40,444.70" fill="none" stroke="#e0243e" stroke-width="0.92"/>
<path d="M410.80,394.35 C453.16,394.35 439.04,485.68 481.40,485.68" fill="none" stroke="#e0243e" stroke-width="0.92"/>
<path d="M410.80,411.10 C453.16,411.10 439.04,431.04 481.40,431.04" fill="none" stroke="#e0243e" stroke-width="0.92"/>
<path d="M410.80,427.85 C453.16,427.85 439.04,499.34 481.40,499.34" fill="none" stroke="#5aa55a" stroke-width="0.92"/>
<path d="M410.80,444.60 C453.16,444.60 439.04,513.00 481.40,513.00" fill="none" stroke="#5aa55a" stroke-width="0.92"/>
<path d="M410.80,461.35 C453.16,461.35 439.04,526.66 481.40,526.66" fill="none" stroke="#ef9440" stroke-width="0.92"/>
<path d="M410.80,478.10 C453.16,478.10 439.04,472.02 481.40,472.02" fill="none" stroke="#a77aa8" stroke-width="0.92"/>
<path d="M410.80,494.85 C453.16,494.85 439.04,376.40 481.40,376.40" fill="none" stroke="#7579b0" stroke-width="0.92"/>
<path d="M410.80,511.60 C453.16,511.60 439.04,581.30 481.40,581.30" fill="none" stroke="#5d9bd6" stroke-width="0.92"/>
<path d="M410.80,528.35 C453.16,528.35 439.04,553.98 481.40,553.98" fill="none" stroke="#c9a292" stroke-width="0.92"/>
<path d="M410.80,545.10 C453.16,545.10 439.04,540.32 481.40,540.32" fill="none" stroke="#4a78aa" stroke-width="0.92"/>
<path d="M410.80,561.85 C453.16,561.85 439.04,390.06 481.40,390.06" fill="none" stroke="#7579b0" stroke-width="0.92"/>
<path d="M410.80,561.85 C453.16,561.85 439.04,403.72 481.40,403.72" fill="none" stroke="#7579b0" stroke-width="0.92"/>
<path d="M410.80,578.60 C453.16,578.60 439.04,567.64 481.40,567.64" fill="none" stroke="#5d9bd6" stroke-width="0.92"/>
<path d="M410.80,595.35 C453.16,595.35 439.04,594.96 481.40,594.96" fill="none" stroke="#b3d0ee" stroke-width="1.9"/>
<path d="M563.60,375.50 C599.66,375.50 587.64,377.50 623.70,377.50" fill="none" stroke="#7579b0" stroke-width="0.92"/>
<path d="M563.60,389.16 C599.66,389.16 587.64,377.50 623.70,377.50" fill="none" stroke="#7579b0" stroke-width="0.92"/>
<path d="M563.60,402.82 C599.66,402.82 587.64,395.55 623.70,395.55" fill="none" stroke="#7579b0" stroke-width="0.92"/>
<path d="M563.60,416.48 C599.66,416.48 587.64,485.80 623.70,485.80" fill="none" stroke="#e0243e" stroke-width="0.92"/>
<path d="M563.60,430.14 C599.66,430.14 587.64,413.60 623.70,413.60" fill="none" stroke="#e0243e" stroke-width="0.92"/>
<path d="M563.60,430.14 C599.66,430.14 587.64,431.65 623.70,431.65" fill="none" stroke="#e0243e" stroke-width="0.92"/>
<path d="M563.60,430.14 C599.66,430.14 587.64,449.70 623.70,449.70" fill="none" stroke="#e0243e" stroke-width="0.92"/>
<path d="M563.60,430.14 C599.66,430.14 587.64,521.90 623.70,521.90" fill="none" stroke="#e0243e" stroke-width="0.92"/>
<path d="M563.60,443.80 C599.66,443.80 587.64,467.75 623.70,467.75" fill="none" stroke="#e0243e" stroke-width="0.92"/>
<path d="M563.60,457.46 C599.66,457.46 587.64,485.80 623.70,485.80" fill="none" stroke="#c9a292" stroke-width="0.92"/>
<path d="M563.60,471.12 C599.66,471.12 587.64,576.05 623.70,576.05" fill="none" stroke="#c9a292" stroke-width="0.92"/>
<path d="M563.60,484.78 C599.66,484.78 587.64,576.05 623.70,576.05" fill="none" stroke="#a77aa8" stroke-width="0.92"/>
<path d="M563.60,498.44 C599.66,498.44 587.64,539.95 623.70,539.95" fill="none" stroke="#5aa55a" stroke-width="0.92"/>
<path d="M563.60,512.10 C599.66,512.10 587.64,539.95 623.70,539.95" fill="none" stroke="#5aa55a" stroke-width="0.92"/>
<path d="M563.60,525.76 C599.66,525.76 587.64,558.00 623.70,558.00" fill="none" stroke="#ef9440" stroke-width="0.92"/>
<path d="M563.60,539.42 C599.66,539.42 587.64,395.55 623.70,395.55" fill="none" stroke="#4a78aa" stroke-width="0.92"/>
<path d="M563.60,553.08 C599.66,553.08 587.64,503.85 623.70,503.85" fill="none" stroke="#c9a292" stroke-width="0.92"/>
<path d="M563.60,566.74 C599.66,566.74 587.64,594.10 623.70,594.10" fill="none" stroke="#5d9bd6" stroke-width="0.92"/>
<path d="M563.60,580.40 C599.66,580.40 587.64,594.10 623.70,594.10" fill="none" stroke="#5d9bd6" stroke-width="0.92"/>
<path d="M563.60,594.06 C599.66,594.06 587.64,594.10 623.70,594.10" fill="none" stroke="#b3d0ee" stroke-width="1.9"/>
<text x="408.00" y="381.50" font-size="7.4" text-anchor="end" font-style="italic" fill="#2e2e2e" stroke="#2e2e2e" stroke-width="0.08">APOE</text>
<g transform="translate(363.80,378.00) scale(1.0)"><g><path d="M-1.2,-3.9 C-3.4,-4.6 -5.3,-2.8 -5.3,-0.4 C-5.3,2 -3.8,3.6 -1.9,3.3 C-1,3.1 -1,2 -1.5,1.2 C-2,0.4 -1.8,-0.8 -1.1,-1.6 C-0.7,-2.4 -0.6,-3.4 -1.2,-3.9 Z" fill="#c63f5f"/><path d="M1.0,-3.8 C3.2,-4.5 5.3,-2.7 5.3,-0.4 C5.3,1.9 3.8,3.4 1.9,3.1 C1,2.9 1,1.9 1.5,1.1 C2,0.4 1.8,-0.8 1.1,-1.6 C0.7,-2.4 0.5,-3.3 1.0,-3.8 Z" fill="#e6566a"/><rect x="-0.7" y="-1.8" width="1.2" height="7.4" fill="#cf6580"/><path d="M-1.6,-0.4 H1.4 M-0.1,-1.8 V1.5" stroke="#f4c8d2" stroke-width="0.5"/></g></g>
<text x="408.00" y="398.25" font-size="7.4" text-anchor="end" font-style="italic" fill="#2e2e2e" stroke="#2e2e2e" stroke-width="0.08">PLG</text>
<g transform="translate(342.60,395.20) scale(1.0)"><g fill="none" stroke-linecap="round" stroke-linejoin="round"><path d="M-3.3,-4.4 L-0.8,-0.5 M-0.8,-0.5 L3.6,-3.4" stroke="#dc4a2c" stroke-width="1.75"/><path d="M-0.8,-0.6 L-0.4,4.3" stroke="#dc4a2c" stroke-width="2.3"/><path d="M-3.5,-4.8 L-4.3,-5.5" stroke="#333" stroke-width="1.3"/></g></g>
<g transform="translate(354.60,395.10) scale(0.92)"><g fill="#8c1e2b"><path d="M-5.6,-2.8 C-4.8,-4.6 -2.6,-5.2 -0.9,-4.6 C-0.2,-3.6 -0.3,-1 -0.9,1 C-1.5,3 -2.5,4.8 -3.5,5.3 C-4.5,4.8 -5.6,2.2 -6,0.2 C-6.2,-1.2 -6,-2.1 -5.6,-2.8 Z"/><path d="M-0.1,-4.3 C1.8,-4.7 4.4,-4.7 6,-3.7 C5.6,-1.8 3.8,-0.7 1.2,0.3 C0.6,0.5 0.2,0.1 0,-0.7 C-0.2,-2 -0.3,-3.4 -0.1,-4.3 Z"/><ellipse cx="-4.2" cy="-2.4" rx="0.7" ry="0.9" fill="#c86070"/></g></g>
<g transform="translate(364.00,394.40) scale(0.75)"><g fill="#111"><circle cx="0" cy="-6.0" r="1.4"/><path d="M-2.2,-4.3 H2.2 L3.7,0.4 L2.7,0.8 L1.9,-1.3 L1.9,6.6 L0.25,6.6 L0,2.4 L-0.25,6.6 L-1.9,6.6 L-1.9,-1.3 L-2.7,0.8 L-3.7,0.4 Z"/></g></g>
<text x="408.00" y="415.00" font-size="7.4" text-anchor="end" font-style="italic" fill="#2e2e2e" stroke="#2e2e2e" stroke-width="0.08">SERPINA1</text>
<g transform="translate(351.30,411.10) scale(1.0)"><g fill="none" stroke-linecap="round" stroke-linejoin="round"><path d="M-3.3,-4.4 L-0.8,-0.5 M-0.8,-0.5 L3.6,-3.4" stroke="#dc4a2c" stroke-width="1.75"/><path d="M-0.8,-0.6 L-0.4,4.3" stroke="#dc4a2c" stroke-width="2.3"/><path d="M-3.5,-4.8 L-4.3,-5.5" stroke="#333" stroke-width="1.3"/></g></g>
<g transform="translate(363.40,411.20) scale(1.0)"><g><path d="M-1.2,-3.9 C-3.4,-4.6 -5.3,-2.8 -5.3,-0.4 C-5.3,2 -3.8,3.6 -1.9,3.3 C-1,3.1 -1,2 -1.5,1.2 C-2,0.4 -1.8,-0.8 -1.1,-1.6 C-0.7,-2.4 -0.6,-3.4 -1.2,-3.9 Z" fill="#c63f5f"/><path d="M1.0,-3.8 C3.2,-4.5 5.3,-2.7 5.3,-0.4 C5.3,1.9 3.8,3.4 1.9,3.1 C1,2.9 1,1.9 1.5,1.1 C2,0.4 1.8,-0.8 1.1,-1.6 C0.7,-2.4 0.5,-3.3 1.0,-3.8 Z" fill="#e6566a"/><rect x="-0.7" y="-1.8" width="1.2" height="7.4" fill="#cf6580"/><path d="M-1.6,-0.4 H1.4 M-0.1,-1.8 V1.5" stroke="#f4c8d2" stroke-width="0.5"/></g></g>
<text x="408.00" y="431.75" font-size="7.4" text-anchor="end" font-style="italic" fill="#2e2e2e" stroke="#2e2e2e" stroke-width="0.08">APH1A</text>
<g transform="translate(363.00,430.50) scale(1.0)"><g fill="#50578f"><path d="M-0.5,-4.8 L-1.6,-5.4 L-3.2,-5 L-4.4,-3.8 L-5.6,-2.8 L-5.9,-0.6 L-5.4,1.2 L-5.7,2.8 L-4.5,4.2 L-3.1,4.6 L-2.2,5.4 L-0.5,5.2 Z"/><path d="M0.5,-4.8 L1.6,-5.4 L3.2,-5 L4.4,-3.8 L5.6,-2.8 L5.9,-0.6 L5.4,1.2 L5.7,2.8 L4.5,4.2 L3.1,4.6 L2.2,5.4 L0.5,5.2 Z"/><path d="M-2.4,-4.8 L-2.4,-2.6 L-3.6,-1.6 M-0.5,1.6 L-2.4,2.4 L-2.6,4 M0.5,-1.6 L2.4,-1.4 M3.6,2.2 L2.8,4.2" stroke="#fff" stroke-width="0.75" fill="none"/></g></g>
<text x="408.00" y="448.50" font-size="7.4" text-anchor="end" font-style="italic" fill="#2e2e2e" stroke="#2e2e2e" stroke-width="0.08">SV2A</text>
<g transform="translate(363.00,446.20) scale(1.0)"><g fill="#50578f"><path d="M-0.5,-4.8 L-1.6,-5.4 L-3.2,-5 L-4.4,-3.8 L-5.6,-2.8 L-5.9,-0.6 L-5.4,1.2 L-5.7,2.8 L-4.5,4.2 L-3.1,4.6 L-2.2,5.4 L-0.5,5.2 Z"/><path d="M0.5,-4.8 L1.6,-5.4 L3.2,-5 L4.4,-3.8 L5.6,-2.8 L5.9,-0.6 L5.4,1.2 L5.7,2.8 L4.5,4.2 L3.1,4.6 L2.2,5.4 L0.5,5.2 Z"/><path d="M-2.4,-4.8 L-2.4,-2.6 L-3.6,-1.6 M-0.5,1.6 L-2.4,2.4 L-2.6,4 M0.5,-1.6 L2.4,-1.4 M3.6,2.2 L2.8,4.2" stroke="#fff" stroke-width="0.75" fill="none"/></g></g>
<text x="408.00" y="465.25" font-size="7.4" text-anchor="end" font-style="italic" fill="#2e2e2e" stroke="#2e2e2e" stroke-width="0.08">KCNN3</text>
<g transform="translate(363.00,461.30) scale(1.0)"><g fill="#8a1f2c"><path d="M-0.5,-3.8 C-2.8,-4.6 -5,-1.6 -5.4,2.2 C-5.6,4.6 -4.8,5.4 -3.2,5 L-0.5,4.4 Z"/><path d="M0.5,-3.8 C2.8,-4.6 5,-1.6 5.4,2.2 C5.6,4.6 4.8,5.4 3.2,5 L0.5,4.4 Z"/><rect x="-0.5" y="-5.6" width="1" height="5" fill="#d6b4b8"/><path d="M0,-0.8 L-1.4,1 M0,-0.8 L1.4,1" stroke="#e8d0d0" stroke-width="0.5"/></g></g>
<text x="408.00" y="482.00" font-size="7.4" text-anchor="end" font-style="italic" fill="#2e2e2e" stroke="#2e2e2e" stroke-width="0.08">F12</text>
<g transform="translate(363.00,479.40) scale(1.0)"><g fill="#8c1e2b"><path d="M-5.6,-2.8 C-4.8,-4.6 -2.6,-5.2 -0.9,-4.6 C-0.2,-3.6 -0.3,-1 -0.9,1 C-1.5,3 -2.5,4.8 -3.5,5.3 C-4.5,4.8 -5.6,2.2 -6,0.2 C-6.2,-1.2 -6,-2.1 -5.6,-2.8 Z"/><path d="M-0.1,-4.3 C1.8,-4.7 4.4,-4.7 6,-3.7 C5.6,-1.8 3.8,-0.7 1.2,0.3 C0.6,0.5 0.2,0.1 0,-0.7 C-0.2,-2 -0.3,-3.4 -0.1,-4.3 Z"/><ellipse cx="-4.2" cy="-2.4" rx="0.7" ry="0.9" fill="#c86070"/></g></g>
<text x="408.00" y="498.75" font-size="7.4" text-anchor="end" font-style="italic" fill="#2e2e2e" stroke="#2e2e2e" stroke-width="0.08">DLG4</text>
<g transform="translate(362.80,495.90) scale(1.0)"><g><circle cx="0" cy="0" r="4.9" fill="#c8b69e" stroke="#cf9f68" stroke-width="0.9"/><path d="M-3.2,-2.6 C-4.4,-1 -4.4,1.2 -3.2,2.6" stroke="#d8c8e0" stroke-width="0.9" fill="none"/><path d="M4.2,-2.4 C3.2,-1.4 3.2,1 4.4,2" stroke="#d4e4f2" stroke-width="1.1" fill="none"/><path d="M2.8,-0.6 L5.4,-0.4" stroke="#b08a60" stroke-width="0.5"/></g></g>
<text x="408.00" y="515.50" font-size="7.4" text-anchor="end" font-style="italic" fill="#2e2e2e" stroke="#2e2e2e" stroke-width="0.08">LIPF</text>
<g transform="translate(362.10,510.90) scale(1.0)"><g><path d="M-1.2,-5.8 L0.6,-5.5 L0.9,-4.4 C2.6,-5 5,-4.4 5.9,-2 C6.6,0.4 5.8,3.4 4,4.8 C2.4,6 0.2,6.2 -1.6,5.7 C-2.4,5.4 -2.8,4.6 -3.2,3.8 C-3.8,3.4 -4.6,3.6 -4.6,4.3 C-4.6,4.8 -4.2,5 -4.3,5.3 C-5.2,5.5 -6,5 -6,3.8 C-6,2.2 -5,1.2 -3.8,1.2 C-2.6,1.2 -1.6,1.2 -1.2,0 C-0.8,-1.6 -0.6,-3 -1.2,-4.4 Z" fill="#f2a986"/><path d="M1.8,-2.8 C3.4,-1.6 3.8,0.6 3.2,2.2" stroke="#f8c4a4" stroke-width="0.8" fill="none"/></g></g>
<text x="408.00" y="532.25" font-size="7.4" text-anchor="end" font-style="italic" fill="#2e2e2e" stroke="#2e2e2e" stroke-width="0.08">MAPK1</text>
<g transform="translate(362.50,529.50) scale(1.0)"><g><path d="M-1.2,-3.9 C-3.4,-4.6 -5.3,-2.8 -5.3,-0.4 C-5.3,2 -3.8,3.6 -1.9,3.3 C-1,3.1 -1,2 -1.5,1.2 C-2,0.4 -1.8,-0.8 -1.1,-1.6 C-0.7,-2.4 -0.6,-3.4 -1.2,-3.9 Z" fill="#c63f5f"/><path d="M1.0,-3.8 C3.2,-4.5 5.3,-2.7 5.3,-0.4 C5.3,1.9 3.8,3.4 1.9,3.1 C1,2.9 1,1.9 1.5,1.1 C2,0.4 1.8,-0.8 1.1,-1.6 C0.7,-2.4 0.5,-3.3 1.0,-3.8 Z" fill="#e6566a"/><rect x="-0.7" y="-1.8" width="1.2" height="7.4" fill="#cf6580"/><path d="M-1.6,-0.4 H1.4 M-0.1,-1.8 V1.5" stroke="#f4c8d2" stroke-width="0.5"/></g></g>
<text x="408.00" y="549.00" font-size="7.4" text-anchor="end" font-style="italic" fill="#2e2e2e" stroke="#2e2e2e" stroke-width="0.08">APOH</text>
<g transform="translate(362.40,543.80) scale(1.0)"><g><path d="M0.2,-6.6 C2.2,-3 2.2,2.6 0,6.6 C-2.1,2.8 -2.1,-3 0.2,-6.6 Z" fill="#d0806a" stroke="#5a5a5a" stroke-width="0.45"/><path d="M0.2,-6.6 L0.2,-4.2" stroke="#444" stroke-width="1.1"/><path d="M-0.3,-3 C-0.5,0 -0.4,2.4 0,4.4 M0.8,-3 C0.9,0 0.8,2.4 0.4,4.2" stroke="#f0b090" stroke-width="0.3" fill="none"/></g></g>
<text x="408.00" y="565.75" font-size="7.4" text-anchor="end" font-style="italic" fill="#2e2e2e" stroke="#2e2e2e" stroke-width="0.08">PPARG</text>
<g transform="translate(362.90,562.40) scale(1.0)"><g><circle cx="0" cy="0" r="4.9" fill="#c8b69e" stroke="#cf9f68" stroke-width="0.9"/><path d="M-3.2,-2.6 C-4.4,-1 -4.4,1.2 -3.2,2.6" stroke="#d8c8e0" stroke-width="0.9" fill="none"/><path d="M4.2,-2.4 C3.2,-1.4 3.2,1 4.4,2" stroke="#d4e4f2" stroke-width="1.1" fill="none"/><path d="M2.8,-0.6 L5.4,-0.4" stroke="#b08a60" stroke-width="0.5"/></g></g>
<text x="408.00" y="582.50" font-size="7.4" text-anchor="end" font-style="italic" fill="#2e2e2e" stroke="#2e2e2e" stroke-width="0.08">GHRL</text>
<g transform="translate(362.60,578.00) scale(1.0)"><g><path d="M-1.2,-5.8 L0.6,-5.5 L0.9,-4.4 C2.6,-5 5,-4.4 5.9,-2 C6.6,0.4 5.8,3.4 4,4.8 C2.4,6 0.2,6.2 -1.6,5.7 C-2.4,5.4 -2.8,4.6 -3.2,3.8 C-3.8,3.4 -4.6,3.6 -4.6,4.3 C-4.6,4.8 -4.2,5 -4.3,5.3 C-5.2,5.5 -6,5 -6,3.8 C-6,2.2 -5,1.2 -3.8,1.2 C-2.6,1.2 -1.6,1.2 -1.2,0 C-0.8,-1.6 -0.6,-3 -1.2,-4.4 Z" fill="#f2a986"/><path d="M1.8,-2.8 C3.4,-1.6 3.8,0.6 3.2,2.2" stroke="#f8c4a4" stroke-width="0.8" fill="none"/></g></g>
<text x="408.00" y="599.25" font-size="7.4" text-anchor="end" font-style="italic" fill="#2e2e2e" stroke="#2e2e2e" stroke-width="0.08">RAF1</text>
<g transform="translate(363.00,592.50) scale(1.0)"><g><path d="M-1.2,-5.8 L0.6,-5.5 L0.9,-4.4 C2.6,-5 5,-4.4 5.9,-2 C6.6,0.4 5.8,3.4 4,4.8 C2.4,6 0.2,6.2 -1.6,5.7 C-2.4,5.4 -2.8,4.6 -3.2,3.8 C-3.8,3.4 -4.6,3.6 -4.6,4.3 C-4.6,4.8 -4.2,5 -4.3,5.3 C-5.2,5.5 -6,5 -6,3.8 C-6,2.2 -5,1.2 -3.8,1.2 C-2.6,1.2 -1.6,1.2 -1.2,0 C-0.8,-1.6 -0.6,-3 -1.2,-4.4 Z" fill="#f2a986"/><path d="M1.8,-2.8 C3.4,-1.6 3.8,0.6 3.2,2.2" stroke="#f8c4a4" stroke-width="0.8" fill="none"/></g></g>
<text x="522.40" y="378.00" font-size="7.2" text-anchor="middle" fill="#2e2e2e" stroke="#2e2e2e" stroke-width="0.08">tat-nr2b9c</text>
<text x="522.40" y="391.72" font-size="7.2" text-anchor="middle" fill="#2e2e2e" stroke="#2e2e2e" stroke-width="0.08">telmisartan</text>
<text x="522.40" y="405.44" font-size="7.2" text-anchor="middle" fill="#2e2e2e" stroke="#2e2e2e" stroke-width="0.08">icosapent</text>
<text x="522.40" y="419.16" font-size="7.2" text-anchor="middle" fill="#2e2e2e" stroke="#2e2e2e" stroke-width="0.08">bis-triazole derivative 10</text>
<text x="522.40" y="432.88" font-size="7.2" text-anchor="middle" fill="#2e2e2e" stroke="#2e2e2e" stroke-width="0.08">alphagen</text>
<text x="522.40" y="446.60" font-size="7.2" text-anchor="middle" fill="#2e2e2e" stroke="#2e2e2e" stroke-width="0.08">urokinase</text>
<text x="522.40" y="460.32" font-size="7.2" text-anchor="middle" fill="#2e2e2e" stroke="#2e2e2e" stroke-width="0.08">aem-28</text>
<text x="522.40" y="474.04" font-size="7.2" text-anchor="middle" fill="#2e2e2e" stroke="#2e2e2e" stroke-width="0.08">nafamostat</text>
<text x="522.40" y="487.76" font-size="7.2" text-anchor="middle" fill="#2e2e2e" stroke="#2e2e2e" stroke-width="0.08">gabexate</text>
<text x="522.40" y="501.48" font-size="7.2" text-anchor="middle" fill="#2e2e2e" stroke="#2e2e2e" stroke-width="0.08">semagacestat</text>
<text x="522.40" y="515.20" font-size="7.2" text-anchor="middle" fill="#2e2e2e" stroke="#2e2e2e" stroke-width="0.08">brivaracetam</text>
<text x="522.40" y="528.92" font-size="7.2" text-anchor="middle" fill="#2e2e2e" stroke="#2e2e2e" stroke-width="0.08">dequalinium</text>
<text x="522.40" y="542.64" font-size="7.2" text-anchor="middle" fill="#2e2e2e" stroke="#2e2e2e" stroke-width="0.08">ljp-1082</text>
<text x="522.40" y="556.36" font-size="7.2" text-anchor="middle" fill="#2e2e2e" stroke="#2e2e2e" stroke-width="0.08">sb220025</text>
<text x="522.40" y="570.08" font-size="7.2" text-anchor="middle" fill="#2e2e2e" stroke="#2e2e2e" stroke-width="0.08">unacylated ghrelin</text>
<text x="522.40" y="583.80" font-size="7.2" text-anchor="middle" fill="#2e2e2e" stroke="#2e2e2e" stroke-width="0.08">cetilistat</text>
<text x="522.40" y="597.52" font-size="7.2" text-anchor="middle" fill="#2e2e2e" stroke="#2e2e2e" stroke-width="0.08">ico-007</text>
<text x="625.90" y="380.00" font-size="6.55" text-anchor="start" fill="#2e2e2e" stroke="#2e2e2e" stroke-width="0.08">Cerebrovascular</text>
<text x="625.90" y="398.05" font-size="6.55" text-anchor="start" fill="#2e2e2e" stroke="#2e2e2e" stroke-width="0.08">Blood</text>
<text x="625.90" y="416.10" font-size="6.55" text-anchor="start" fill="#2e2e2e" stroke="#2e2e2e" stroke-width="0.08">Lung</text>
<text x="625.90" y="434.15" font-size="6.55" text-anchor="start" fill="#2e2e2e" stroke="#2e2e2e" stroke-width="0.08">Respiratory system</text>
<text x="625.90" y="452.20" font-size="6.55" text-anchor="start" fill="#2e2e2e" stroke="#2e2e2e" stroke-width="0.08">Pleura</text>
<text x="625.90" y="470.25" font-size="6.55" text-anchor="start" fill="#2e2e2e" stroke="#2e2e2e" stroke-width="0.08">Puerperium</text>
<text x="625.90" y="488.30" font-size="6.55" text-anchor="start" fill="#2e2e2e" stroke="#2e2e2e" stroke-width="0.08">Metabolic</text>
<text x="625.90" y="506.35" font-size="6.55" text-anchor="start" fill="#2e2e2e" stroke="#2e2e2e" stroke-width="0.08">Arthrosis</text>
<text x="625.90" y="524.40" font-size="6.55" text-anchor="start" fill="#2e2e2e" stroke="#2e2e2e" stroke-width="0.08">Ear</text>
<text x="625.90" y="542.45" font-size="6.55" text-anchor="start" fill="#2e2e2e" stroke="#2e2e2e" stroke-width="0.08">Movement disorders</text>
<text x="625.90" y="560.50" font-size="6.55" text-anchor="start" fill="#2e2e2e" stroke="#2e2e2e" stroke-width="0.08">Nervous system</text>
<text x="625.90" y="578.55" font-size="6.55" text-anchor="start" fill="#2e2e2e" stroke="#2e2e2e" stroke-width="0.08">Gallbladder</text>
<text x="625.90" y="596.60" font-size="6.55" text-anchor="start" fill="#2e2e2e" stroke="#2e2e2e" stroke-width="0.08">Diabetes</text>
</svg>
</body></html>
